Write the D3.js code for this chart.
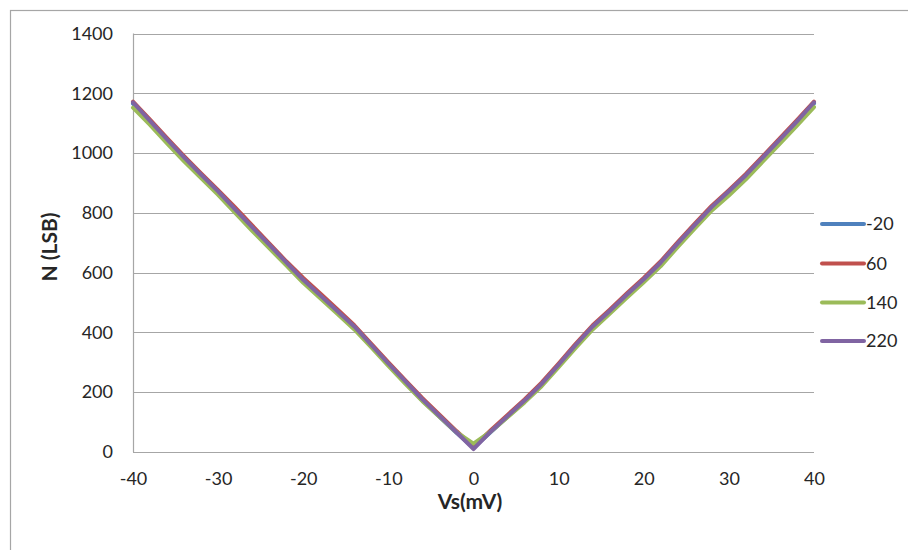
<!DOCTYPE html>
<html>
<head>
<meta charset="utf-8">
<script src="https://cdn.jsdelivr.net/npm/d3@7"></script>
<style>
  html, body { margin: 0; padding: 0; background: #fff; }
  svg { display: block; }
  text { font-family: Lato, "Open Sans", "Liberation Sans", sans-serif; fill: #262626; }
</style>
</head>
<body>
<svg id="chart" width="908" height="550"></svg>
<script>
// ---- Data ----
const vs = [-40,-38,-36,-34,-32,-30,-28,-26,-24,-22,-20,-18,-16,-14,-12,-10,-8,-6,-4,-2,0,2,4,6,8,10,12,14,16,18,20,22,24,26,28,30,32,34,36,38,40];
const seriesNames = ["-20", "60", "140", "220"];
const nMinus20 = [1165,1105,1040,980,925,868,808,748,690,630,572,520,468,415,355,292,232,172,118,64,14,66,118,170,224,290,354,416,468,522,574,630,694,756,816,868,922,982,1042,1102,1166];
const n60      = [1172,1112,1050,990,932,876,818,758,698,638,582,530,478,424,362,300,240,180,125,70,18,72,124,176,232,296,362,424,476,530,582,638,702,764,824,876,930,990,1050,1110,1172];
const n140     = [1152,1094,1032,972,916,860,800,740,682,624,566,514,462,410,350,288,228,170,118,66,28,68,116,166,220,284,348,410,462,516,568,622,686,748,808,858,912,972,1032,1092,1154];
const n220     = [1170,1108,1046,986,928,872,812,752,694,634,576,524,472,420,358,296,236,176,121,66,10,68,120,172,228,292,358,420,472,526,578,634,698,760,820,872,926,986,1046,1106,1170];
const yTicks = [0,200,400,600,800,1000,1200,1400];
const xTicks = [-40,-30,-20,-10,0,10,20,30,40];
const colors = ["#4F81BD", "#C0504D", "#9BBB59", "#8064A2"];
const allSeries = [nMinus20, n60, n140, n220];

// ---- Layout ----
const svg = d3.select("#chart");
const pLeft = 133, pRight = 814, pTop = 33.5, pBottom = 452;
const x = d3.scaleLinear().domain([-40, 40]).range([pLeft, pRight]);
const y = d3.scaleLinear().domain([0, 1400]).range([pBottom, pTop]);
const fmt = d => String(d);

// outer border
svg.append("rect").attr("x", 10.5).attr("y", 10.5).attr("width", 920).attr("height", 560)
  .attr("fill", "none").attr("stroke", "#a6a6a6").attr("stroke-width", 1.2);

// gridlines
svg.append("g").selectAll("line").data(yTicks).join("line")
  .attr("x1", pLeft).attr("x2", pRight)
  .attr("y1", d => Math.round(y(d)) + 0.5).attr("y2", d => Math.round(y(d)) + 0.5)
  .attr("stroke", "#a6a6a6").attr("stroke-width", 1.2);

// left axis line
svg.append("line").attr("x1", pLeft + 0.5).attr("x2", pLeft + 0.5).attr("y1", pTop).attr("y2", pBottom)
  .attr("stroke", "#a6a6a6").attr("stroke-width", 1.2);

// y axis labels
const yAxis = d3.axisLeft(y).tickValues(yTicks).tickFormat(fmt).tickSize(0).tickPadding(20);
const gy = svg.append("g").attr("transform", `translate(${pLeft},0)`).call(yAxis);
gy.select(".domain").remove();
gy.selectAll("text").style("font-size", "18px").style("font-family", "Lato, 'Open Sans', sans-serif").attr("fill", "#262626");

// x axis labels
const xAxis = d3.axisBottom(x).tickValues(xTicks).tickFormat(fmt).tickSize(0).tickPadding(20);
const gx = svg.append("g").attr("transform", `translate(0,${pBottom})`).call(xAxis);
gx.select(".domain").remove();
gx.selectAll("text").style("font-size", "18px").style("font-family", "Lato, 'Open Sans', sans-serif").attr("fill", "#262626");

// axis titles
svg.append("text").attr("x", 470).attr("y", 509).attr("text-anchor", "middle")
  .style("font-size", "21px").style("font-weight", "bold").text("Vs(mV)");
svg.append("text").attr("transform", "translate(57,247) rotate(-90)").attr("text-anchor", "middle")
  .style("font-size", "21px").style("font-weight", "bold").text("N (LSB)");

// lines
const line = d3.line().x((d, i) => x(vs[i])).y(d => y(d));
svg.append("g").selectAll("path").data(allSeries).join("path")
  .attr("d", d => line(d))
  .attr("fill", "none")
  .attr("stroke", (d, i) => colors[i])
  .attr("stroke-width", 4)
  .attr("stroke-linejoin", "round")
  .attr("stroke-linecap", "round");

// legend
const legendY = [224, 263.5, 302.5, 341];
const lg = svg.append("g").selectAll("g").data(seriesNames).join("g")
  .attr("transform", (d, i) => `translate(0,${legendY[i]})`);
lg.append("line").attr("x1", 822).attr("x2", 864).attr("y1", 0).attr("y2", 0)
  .attr("stroke", (d, i) => colors[i]).attr("stroke-width", 4).attr("stroke-linecap", "round");
lg.append("text").attr("x", 866).attr("y", 0).attr("dy", "0.36em")
  .style("font-size", "18px").text(d => d);
</script>
</body>
</html>
